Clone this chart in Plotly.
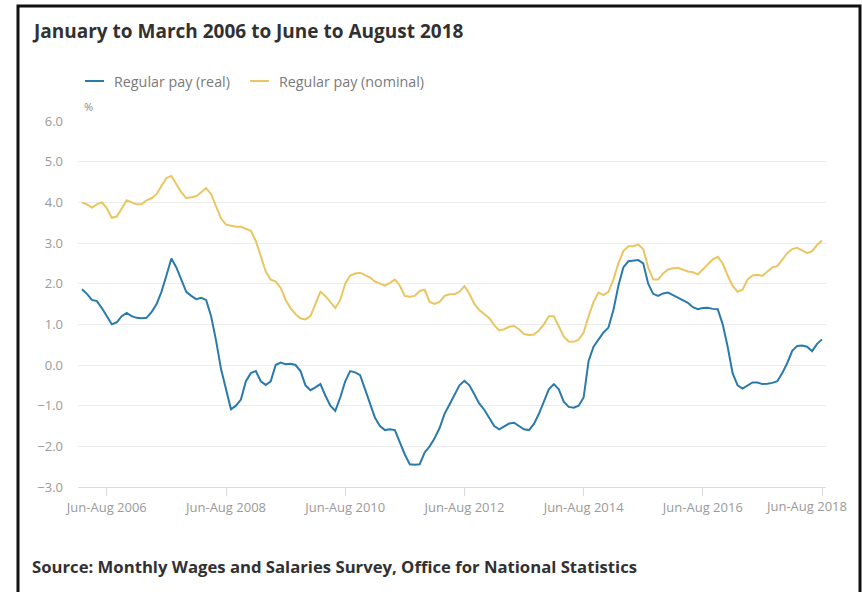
import plotly.graph_objects as go

# Rolling three-month periods, Jan-Mar 2006 through Jun-Aug 2018 (150 periods)
tick_positions = [5, 29, 53, 77, 101, 125, 149]
tick_labels = ["Jun-Aug 2006", "Jun-Aug 2008", "Jun-Aug 2010", "Jun-Aug 2012",
               "Jun-Aug 2014", "Jun-Aug 2016", "Jun-Aug 2018"]

# Regular pay growth, %, real terms
regular_real = [
    1.86, 1.75, 1.60, 1.57, 1.40, 1.20, 1.00, 1.05, 1.20, 1.28,
    1.20, 1.16, 1.15, 1.16, 1.30, 1.49, 1.80, 2.20, 2.62, 2.40,
    2.10, 1.80, 1.70, 1.62, 1.65, 1.60, 1.20, 0.60, -0.10, -0.60,
    -1.09, -1.00, -0.85, -0.40, -0.20, -0.15, -0.40, -0.49, -0.40, 0.00,
    0.06, 0.02, 0.03, 0.00, -0.15, -0.50, -0.62, -0.55, -0.47, -0.75,
    -1.00, -1.13, -0.80, -0.40, -0.15, -0.18, -0.25, -0.60, -0.95, -1.30,
    -1.50, -1.60, -1.58, -1.60, -1.90, -2.20, -2.44, -2.45, -2.44, -2.15,
    -2.00, -1.80, -1.55, -1.20, -0.97, -0.72, -0.50, -0.39, -0.50, -0.72,
    -0.95, -1.10, -1.30, -1.50, -1.58, -1.52, -1.44, -1.42, -1.50, -1.58,
    -1.60, -1.45, -1.20, -0.88, -0.60, -0.47, -0.60, -0.90, -1.03, -1.05,
    -1.00, -0.80, 0.10, 0.45, 0.62, 0.80, 0.92, 1.35, 1.95, 2.40,
    2.55, 2.56, 2.58, 2.50, 2.00, 1.75, 1.70, 1.76, 1.78, 1.72,
    1.65, 1.60, 1.53, 1.42, 1.37, 1.40, 1.41, 1.38, 1.37, 1.00,
    0.45, -0.20, -0.50, -0.58, -0.50, -0.43, -0.43, -0.47, -0.46, -0.44,
    -0.40, -0.20, 0.05, 0.35, 0.47, 0.48, 0.45, 0.34, 0.52, 0.63,
]

# Regular pay growth, %, nominal terms
regular_nominal = [
    4.00, 3.95, 3.87, 3.95, 4.00, 3.85, 3.62, 3.65, 3.85, 4.05,
    4.00, 3.95, 3.95, 4.05, 4.10, 4.20, 4.40, 4.60, 4.65, 4.45,
    4.25, 4.10, 4.12, 4.15, 4.25, 4.35, 4.20, 3.90, 3.60, 3.45,
    3.42, 3.40, 3.40, 3.35, 3.30, 3.05, 2.70, 2.30, 2.10, 2.05,
    1.90, 1.60, 1.40, 1.25, 1.15, 1.12, 1.20, 1.50, 1.80, 1.70,
    1.55, 1.40, 1.60, 2.00, 2.20, 2.25, 2.27, 2.20, 2.15, 2.05,
    2.00, 1.95, 2.02, 2.10, 1.95, 1.70, 1.68, 1.70, 1.82, 1.85,
    1.55, 1.50, 1.55, 1.70, 1.74, 1.74, 1.80, 1.94, 1.75, 1.50,
    1.35, 1.25, 1.15, 0.98, 0.85, 0.88, 0.94, 0.96, 0.88, 0.76,
    0.74, 0.75, 0.85, 1.00, 1.20, 1.20, 0.95, 0.70, 0.58, 0.57,
    0.62, 0.80, 1.20, 1.55, 1.78, 1.72, 1.80, 2.10, 2.50, 2.80,
    2.92, 2.92, 2.96, 2.85, 2.40, 2.10, 2.10, 2.25, 2.35, 2.38,
    2.39, 2.35, 2.30, 2.28, 2.23, 2.35, 2.47, 2.60, 2.66, 2.50,
    2.20, 1.95, 1.80, 1.85, 2.10, 2.20, 2.22, 2.19, 2.30, 2.40,
    2.43, 2.60, 2.75, 2.85, 2.88, 2.82, 2.75, 2.80, 2.95, 3.06,
]

series_names = ["Regular pay (real)", "Regular pay (nominal)"]
series_colors = ["#2a7aac", "#e9c662"]

period_index = list(range(len(regular_real)))

# Page geometry (pixels) used to place decorations around the plot area
W, H = 862, 592
L, R = 78, 826
T, B = 121, 487


def px(x):
    return (x - L) / (R - L)


def py(y):
    return (B - y) / (B - T)


fig = go.Figure()
for name, values, color in zip(series_names, [regular_real, regular_nominal], series_colors):
    fig.add_trace(go.Scatter(
        x=period_index, y=values, mode="lines", name=name,
        line=dict(color=color, width=2), showlegend=False,
        hovertemplate="%{y:.1f}%<extra>" + name + "</extra>",
    ))

tick_font = dict(family="Open Sans", size=13, color="#9a9a9a")

annotations = [
    dict(text="<b>January to March 2006 to June to August 2018</b>",
         x=px(30), y=py(31), xref="paper", yref="paper",
         xanchor="left", yanchor="middle", showarrow=False,
         font=dict(family="Open Sans", size=19, color="#323132")),
    dict(text="%", x=px(82), y=py(107), xref="paper", yref="paper",
         xanchor="left", yanchor="middle", showarrow=False,
         font=dict(family="Open Sans", size=11, color="#888888")),
    dict(text="<b>Source: Monthly Wages and Salaries Survey, Office for National Statistics</b>",
         x=px(30), y=py(566), xref="paper", yref="paper",
         xanchor="left", yanchor="middle", showarrow=False,
         font=dict(family="Open Sans", size=16.7, color="#323132")),
    # last category label, pulled inside the chart edge
    dict(text=tick_labels[-1], x=tick_positions[-1], xref="x",
         y=py(506), yref="paper", xanchor="right", yanchor="middle",
         xshift=27, showarrow=False, font=tick_font),
]

shapes = [
    # outer frame
    dict(type="rect", xref="paper", yref="paper",
         x0=px(18), x1=px(860), y0=py(620), y1=py(6),
         line=dict(color="#111111", width=3), layer="above"),
]

# legend entries
legend_items = [(85, 112), (250, 277)]
for (lx, tx), name, color in zip(legend_items, series_names, series_colors):
    shapes.append(dict(type="line", xref="paper", yref="paper",
                       x0=px(lx), x1=px(lx + 19), y0=py(81), y1=py(81),
                       line=dict(color=color, width=2)))
    annotations.append(dict(text=name, x=px(tx), y=py(81), xref="paper", yref="paper",
                            xanchor="left", yanchor="middle", showarrow=False,
                            font=dict(family="Open Sans", size=14.3, color="#7a7a7a")))

fig.update_layout(
    width=W, height=H,
    margin=dict(l=L, r=W - R, t=T, b=H - B, pad=0),
    paper_bgcolor="white", plot_bgcolor="white",
    font=dict(family="Open Sans", size=13, color="#999999"),
    annotations=annotations, shapes=shapes,
    hovermode="x unified",
)

fig.update_xaxes(
    range=[-0.8, 149.8],
    tickvals=tick_positions, ticktext=tick_labels[:-1] + [""],
    ticks="outside", ticklen=8, tickcolor="#d6dce6", tickwidth=1,
    showgrid=False, zeroline=False,
    showline=True, linecolor="#d6dce6", linewidth=1,
    tickfont=tick_font,
)

fig.update_yaxes(
    range=[-3, 6], dtick=1, tickformat=".1f",
    showgrid=True, gridcolor="#ececec", gridwidth=1,
    zeroline=False, showline=False,
    ticklabelstandoff=14,
    tickfont=tick_font,
)

fig.write_html("out.html")
